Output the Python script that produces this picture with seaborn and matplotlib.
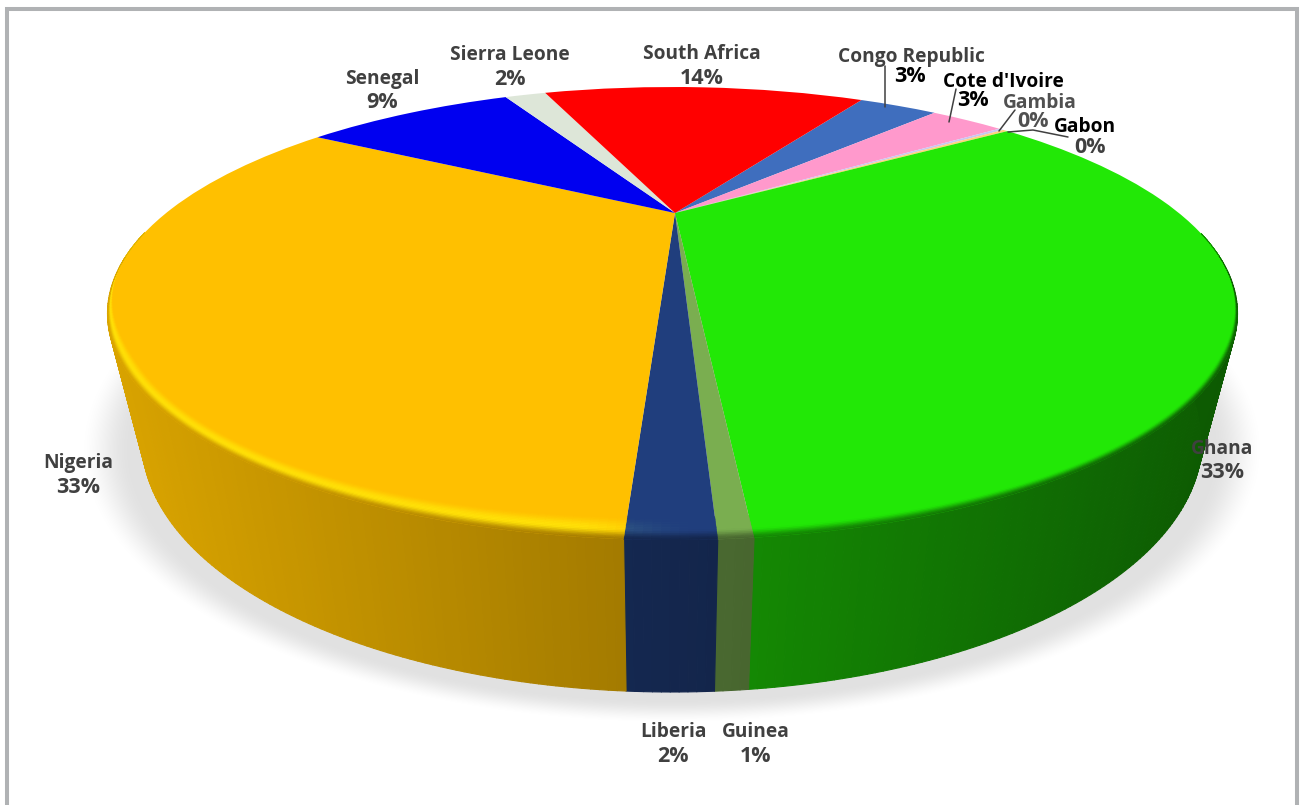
import numpy as np
import matplotlib
matplotlib.use("Agg")
import matplotlib.pyplot as plt
import matplotlib.transforms as mtransforms
from matplotlib.collections import PolyCollection
from matplotlib.colors import to_rgb
import seaborn as sns

# Shares per country, clockwise from the top right of the pie
countries = ["Congo Republic", "Cote d'Ivoire", "Gambia", "Gabon", "Ghana", "Guinea",
             "Liberia", "Nigeria", "Senegal", "Sierra Leone", "South Africa"]
shares = [3.4, 3.1, 0.2, 0.2, 33.2, 0.64, 1.65, 32.55, 8.85, 1.8, 14.41]
slice_colors = ["#3F6EBE", "#FF99CC", "#C9C6F0", "#FFD27A", "#22E806", "#7AAE50",
                "#203E7D", "#FFC000", "#0000F0", "#DDE6D8", "#FF0000"]

# Label placement: name centre and baseline, percentage centre and baseline, colours
name_xy = [(911, 62), (1003, 87), (1040, 108), (1085, 132), (1222, 454), (756, 737),
           (673, 737), (78, 468), (382, 84), (510, 60), (702, 59)]
pct_xy = [(910, 82), (973, 106), (1033, 127), (1090, 153), (1222, 478), (756, 762),
          (673, 762), (78, 493), (382, 108), (510, 85), (702, 84)]
name_colors = ["#404040", "#000000", "#505050", "#000000"] + ["#404040"] * 7
pct_colors = ["#000000", "#000000", "#505050", "#404040"] + ["#404040"] * 7

leader_lines = [[(885, 66), (885, 107)],
                [(956, 89), (949, 122)],
                [(1015, 110), (999, 131)],
                [(1008, 132), (1033, 130), (1068, 137)]]

START_ANGLE = 59.3

# Outline of the tilted disc in canvas pixels
TOP_CX, TOP_CY, TOP_A, TOP_B = 672.5, 313.5, 565.0, 226.5
BASE_CX, BASE_CY, BASE_A, BASE_B = 672.0, 440.0, 530.0, 252.0
APEX_X, APEX_Y = 675.0, 213.0


def boost_matrix(vx, vy):
    """Projective map of the unit disc onto itself that sends its centre to (vx, vy)."""
    v2 = vx * vx + vy * vy
    g = 1.0 / np.sqrt(1.0 - v2)
    k = (g - 1.0) / v2
    return np.array([[1 + k * vx * vx, k * vx * vy, g * vx],
                     [k * vx * vy, 1 + k * vy * vy, g * vy],
                     [g * vx, g * vy, g]])


BOOST = boost_matrix((APEX_X - TOP_CX) / TOP_A, (TOP_CY - APEX_Y) / TOP_B)


def to_disc(xy):
    xy = np.atleast_2d(xy)
    hom = np.column_stack([xy, np.ones(len(xy))]) @ BOOST.T
    return hom[:, :2] / hom[:, 2:3]


class TiltedDisc(mtransforms.Transform):
    """Sends pie coordinates to canvas pixels with a perspective tilt."""
    input_dims = 2
    output_dims = 2
    is_separable = False

    def transform_non_affine(self, values):
        d = to_disc(values)
        return np.column_stack([TOP_CX + TOP_A * d[:, 0], TOP_CY - TOP_B * d[:, 1]])


def smoothstep(v):
    v = np.clip(v, 0, 1)
    return v * v * (3 - 2 * v)


def side_shade(dx):
    return 0.62 - 0.23 * dx


sns.set_theme(style="white")
palette = sns.color_palette(slice_colors)
plt.rcParams["font.family"] = ["Open Sans", "DejaVu Sans"]

fig = plt.figure(figsize=(13, 8.05), dpi=100, facecolor="white")
ax = fig.add_axes([0, 0, 1, 1])

wedges, _ = ax.pie(shares, colors=palette, startangle=START_ANGLE, counterclock=False,
                   wedgeprops=dict(linewidth=0))

tilt = TiltedDisc()
for w in wedges:
    w.set_transform(tilt + ax.transData)
    w.set_zorder(3)

ax.set_aspect("auto")
ax.set_xlim(0, 1300)
ax.set_ylim(805, 0)
ax.axis("off")

# Soft drop shadow under the base of the disc
yy, xx = np.mgrid[0:805, 0:1300]
rho = np.hypot((xx + 0.5 - BASE_CX) / BASE_A, (yy + 0.5 - (BASE_CY + 10)) / (BASE_B - 7))
fade = 1 - smoothstep((rho - 1.02) / 0.10)
shadow = np.ones((805, 1300, 4))
shadow[..., :3] = 0.0
shadow[..., 3] = fade * 0.12
ax.imshow(shadow, extent=(0, 1300, 805, 0), aspect="auto", zorder=1, interpolation="bilinear")
ax.set_xlim(0, 1300)
ax.set_ylim(805, 0)

# Wall of the disc and the soft bevel along its rim, slice by slice
wall_polys, wall_cols, rim_polys, rim_cols = [], [], [], []
levels = np.linspace(0, 1, 15)
apex = np.array([APEX_X, APEX_Y])
for w, col in zip(wedges, palette):
    face = np.array(to_rgb(col))
    steps = max(3, int(np.ceil((w.theta2 - w.theta1) / 0.6)))
    th = np.radians(np.linspace(w.theta1, w.theta2, steps + 1))
    d = to_disc(np.column_stack([np.cos(th), np.sin(th)]))
    dx, dy = d[:, 0], d[:, 1]
    top = np.column_stack([TOP_CX + TOP_A * dx, TOP_CY - TOP_B * dy])
    base = np.column_stack([BASE_CX + BASE_A * dx, BASE_CY - BASE_B * dy])
    # The bevel's inner edge stays on the slice's own rays through the apex
    spoke = top - apex
    inset = smoothstep((0.25 - dy) / 0.5) * (13 + 10 * np.clip(-dy, 0, 1))
    inner = top - spoke * (inset / np.hypot(spoke[:, 0], spoke[:, 1]))[:, None]
    for i in range(steps):
        if dy[i] > 0.35 and dy[i + 1] > 0.35:
            continue
        mid_dx = 0.5 * (dx[i] + dx[i + 1])
        shade = side_shade(mid_dx)
        wall = face * shade
        wall_polys.append([top[i], top[i + 1], base[i + 1], base[i]])
        wall_cols.append(wall)
        glow = smoothstep((0.05 - mid_dx) / 0.25)
        bright = np.clip(face + glow * np.array([0.08, 0.13, 0.03]), 0, 1)
        for t0, t1 in zip(levels[:-1], levels[1:]):
            a0 = inner[i] + (top[i] - inner[i]) * t0
            b0 = inner[i + 1] + (top[i + 1] - inner[i + 1]) * t0
            a1 = inner[i] + (top[i] - inner[i]) * t1
            b1 = inner[i + 1] + (top[i + 1] - inner[i + 1]) * t1
            t = 0.5 * (t0 + t1)
            if t < 0.55:
                c = face + (bright - face) * smoothstep(t / 0.55)
            else:
                c = bright + (wall - bright) * smoothstep((t - 0.55) / 0.45)
            rim_polys.append([a0, b0, b1, a1])
            rim_cols.append(c)

ax.add_collection(PolyCollection(wall_polys, facecolors=wall_cols, edgecolors=wall_cols,
                                 linewidths=0.8, zorder=2))
ax.add_collection(PolyCollection(rim_polys, facecolors=rim_cols, edgecolors=rim_cols,
                                 linewidths=0.3, zorder=4))

# Thin grey border, open along the bottom edge
ax.plot([7, 7, 1297, 1297], [805, 9, 9, 805], color="#B0B2B4", lw=2.9,
        solid_joinstyle="miter", zorder=5, clip_on=False)

for pts in leader_lines:
    xs, ys = zip(*pts)
    ax.plot(xs, ys, color="#404040", lw=1.1, zorder=5)

# Country names with their rounded shares
total = sum(shares)
for name, share, nxy, pxy, nc, pc in zip(countries, shares, name_xy, pct_xy, name_colors, pct_colors):
    ax.text(*nxy, name, ha="center", va="baseline", fontsize=13.8, fontweight="bold", color=nc, zorder=6)
    ax.text(*pxy, f"{share / total * 100:.0f}%", ha="center", va="baseline", fontsize=15.5,
            fontweight="bold", color=pc, zorder=6)

fig.savefig("out.png", dpi=100, facecolor="white")
